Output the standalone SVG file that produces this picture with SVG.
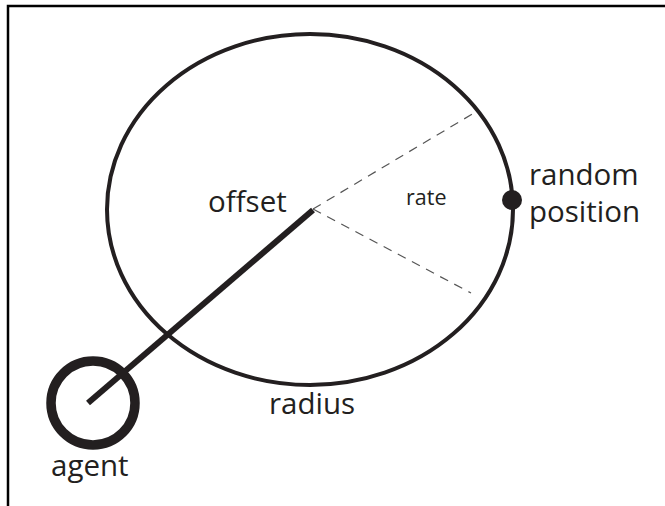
<svg xmlns="http://www.w3.org/2000/svg" width="665" height="506" viewBox="0 0 665 506">
<style>
.lbl{font-family:"Open Sans","Liberation Sans",sans-serif;font-size:29.5px;fill:#231f20}
.sm{font-size:21.5px}
.dash{stroke:#555;stroke-width:1.2;stroke-dasharray:9 7;fill:none}
</style>
<rect width="665" height="506" fill="#fff"/>
<path d="M8 506 V6 H665" fill="none" stroke="#000" stroke-width="2.5"/>
<g id="connectors">
<line class="dash" x1="313" y1="209" x2="474" y2="113"/>
<line class="dash" x1="313" y1="209" x2="471" y2="293"/>
<line x1="313" y1="210" x2="88" y2="403" stroke="#231f20" stroke-width="6"/>
</g>
<g id="circle">
<ellipse cx="310" cy="209.5" rx="203" ry="175.5" fill="none" stroke="#231f20" stroke-width="4"/>
<text class="lbl" x="269" y="414">radius</text>
</g>
<g id="offset"><text class="lbl" x="208" y="212">offset</text></g>
<g id="rate"><text class="lbl sm" x="406" y="205">rate</text></g>
<g id="random-position">
<circle cx="512" cy="200" r="10" fill="#231f20"/>
<text class="lbl" x="529" y="185">random</text>
<text class="lbl" x="529" y="222">position</text>
</g>
<g id="agent">
<circle cx="93" cy="403" r="42" fill="none" stroke="#231f20" stroke-width="9.5"/>
<text class="lbl" x="51" y="476">agent</text>
</g>
</svg>
